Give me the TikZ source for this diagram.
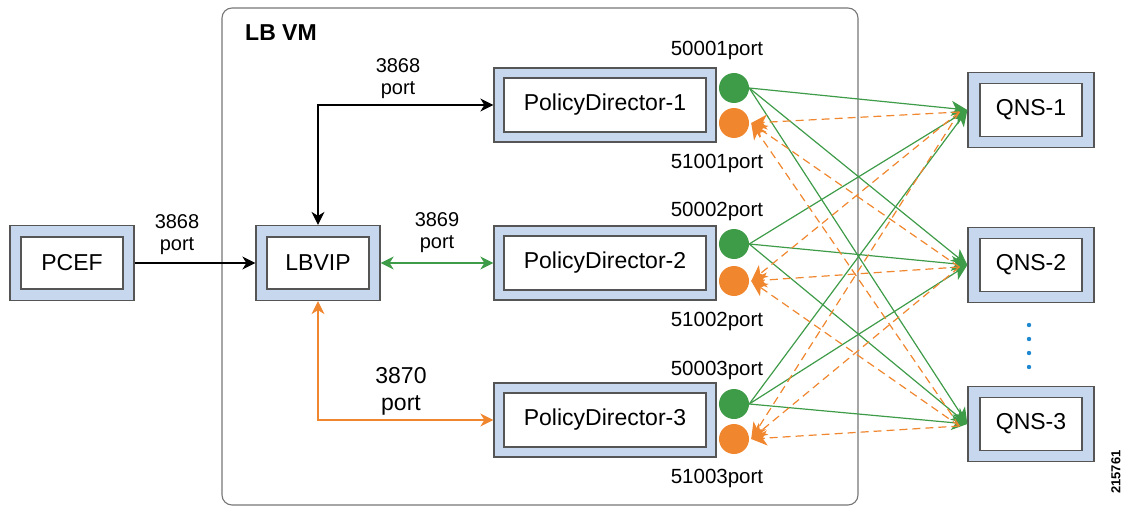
\documentclass[tikz,border=0pt]{standalone}
\usepackage{fontspec}
\setmainfont{Liberation Sans}
\usetikzlibrary{arrows.meta,calc}
\definecolor{boxblue}{HTML}{C6D7EE}
\definecolor{boxedge}{HTML}{555555}
\definecolor{ggreen}{HTML}{3E9B48}
\definecolor{gorange}{HTML}{F0862E}
\definecolor{dotblue}{HTML}{1E88D0}
\tikzset{
  tipS/.tip={Stealth[length=13pt, width=13pt, inset=4pt]},
  tipM/.tip={Stealth[length=16pt, width=15pt, inset=4.5pt]},
  outerbox/.style={draw=boxedge, line width=1.3pt, fill=boxblue, inner sep=0pt},
  innerbox/.style={draw=boxedge, line width=1.3pt, fill=white, inner sep=0pt, font=\fontsize{23}{26}\selectfont},
  lbl/.style={align=center, font=\fontsize{20}{22}\selectfont, inner sep=0pt},
  portlbl/.style={font=\fontsize{20.5}{22}\selectfont, inner sep=0pt},
  blk/.style={draw=black, line width=1.1pt},
  grn/.style={draw=ggreen, line width=1.3pt},
  org/.style={draw=gorange, line width=1.3pt},
  mgreen/.style={draw=ggreen, line width=1.2pt, -{tipM}},
  morange/.style={draw=gorange, line width=1.2pt, dash pattern=on 8pt off 5pt, -{tipM}},
  port/.style={circle, minimum size=30pt, inner sep=0pt},
}
\begin{document}
\begin{tikzpicture}[x=1pt, y=-1pt]
\useasboundingbox (0,0) rectangle (1132,508);
% container
\node[draw=boxedge!80, line width=1.1pt, rounded corners=10pt, minimum width=636pt, minimum height=497pt, inner sep=0pt] (lbvm) at (540,256.5) {};
\node[font=\bfseries\fontsize{23}{26}\selectfont, anchor=west, inner sep=0pt] (lbvmt) at (245,33) {LB VM};
% boxes
\node[outerbox, minimum width=124pt, minimum height=75pt] (pcef) at (72,263) {};
\node[innerbox, minimum width=102pt, minimum height=52pt] (pcefi) at (pcef) {PCEF};
\node[outerbox, minimum width=124pt, minimum height=75pt] (lbvip) at (318,263) {};
\node[innerbox, minimum width=102pt, minimum height=52pt] (lbvipi) at (lbvip) {LBVIP};
\node[outerbox, minimum width=222pt, minimum height=74pt] (pd1) at (605,105) {};
\node[innerbox, minimum width=202pt, minimum height=54pt] (pd1i) at (pd1) {PolicyDirector-1};
\node[outerbox, minimum width=222pt, minimum height=74pt] (pd2) at (605,263) {};
\node[innerbox, minimum width=202pt, minimum height=54pt] (pd2i) at (pd2) {PolicyDirector-2};
\node[outerbox, minimum width=222pt, minimum height=74pt] (pd3) at (605,420) {};
\node[innerbox, minimum width=202pt, minimum height=54pt] (pd3i) at (pd3) {PolicyDirector-3};
\node[outerbox, minimum width=126pt, minimum height=75pt] (q1) at (1031,110) {};
\node[innerbox, minimum width=102pt, minimum height=53pt] (q1i) at (q1) {QNS-1};
\node[outerbox, minimum width=126pt, minimum height=75pt] (q2) at (1031,265) {};
\node[innerbox, minimum width=102pt, minimum height=53pt] (q2i) at (q2) {QNS-2};
\node[outerbox, minimum width=126pt, minimum height=75pt] (q3) at (1031,424) {};
\node[innerbox, minimum width=102pt, minimum height=53pt] (q3i) at (q3) {QNS-3};
% port circles
\node[port, fill=ggreen] (g1) at (734,88) {};
\node[port, fill=gorange] (o1) at (734,123) {};
\node[port, fill=ggreen] (g2) at (734,244) {};
\node[port, fill=gorange] (o2) at (734,281) {};
\node[port, fill=ggreen] (g3) at (734,404) {};
\node[port, fill=gorange] (o3) at (734,439) {};
% port labels
\node[portlbl] (l1) at (717,50) {50001port};
\node[portlbl] (l2) at (717,163) {51001port};
\node[portlbl] (l3) at (717,211) {50002port};
\node[portlbl] (l4) at (717,321) {51002port};
\node[portlbl] (l5) at (717,370) {50003port};
\node[portlbl] (l6) at (717,478) {51003port};
% connectors
\draw[blk, -{tipS}] (pcef.east) -- (lbvip.west);
\node[lbl] (t1) at (177,235) {3868\\port};
\draw[blk, {tipS}-{tipS}] (lbvip.north) |- (pd1.west);
\node[lbl] (t2) at (398,79) {3868\\port};
\draw[grn, {tipS}-{tipS}] (lbvip.east) -- (pd2.west);
\node[lbl] (t3) at (437,233) {3869\\port};
\draw[org, {tipS}-{tipS}] (lbvip.south) |- (pd3.west);
\node[lbl, font=\fontsize{23}{27}\selectfont] (t4) at (401,391) {3870\\port};
% mesh
\foreach \g in {g1,g2,g3}{
  \foreach \q in {q1,q2,q3}{
    \draw[mgreen] (\g.east) -- (\q.west);
  }
}
\foreach \o in {o1,o2,o3}{
  \foreach \q in {q1,q2,q3}{
    \draw[morange] ($(\q.west)+(-8,2)$) -- ($(\o.east)+(2,0)$);
  }
}
% dots
\foreach \yy in {325,339,353,367}{
  \fill[dotblue] (1029,\yy) circle (2.2pt);
}
\node[rotate=90, font=\bfseries\fontsize{13}{14}\selectfont, inner sep=0pt] (id) at (1116,472) {215761};
\end{tikzpicture}
\end{document}
